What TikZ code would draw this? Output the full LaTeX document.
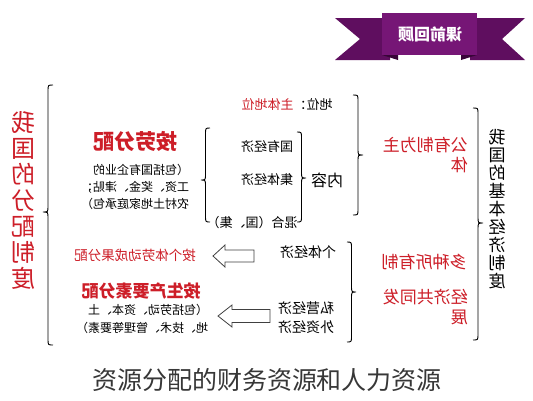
\documentclass[tikz,border=0pt]{standalone}
\usepackage{fontspec}
\newfontfamily\cjk{Noto Sans CJK SC}
\definecolor{redtxt}{RGB}{205,30,40}
\definecolor{ribbon}{RGB}{118,22,118}
\definecolor{ribbondark}{RGB}{95,14,95}
\definecolor{ribbonfold}{RGB}{55,5,55}
\definecolor{captxt}{RGB}{55,55,55}
\newcommand\fzz[2]{\cjk\fontsize{#1}{#2}\selectfont}
% #1 x of ends, #2 top y, #3 tip y, #4 bottom y, #5 signed amplitude (tip x = #1 + #5)
\newcommand\bracedraw[5]{%
  \draw[bracestyle] (#1,#2)
    .. controls +({0.5*(#5)},0) and +(0,-6) .. ++({0.5*(#5)},6)
    -- ++(0,{#3-#2-12})
    .. controls +(0,6) and +({-0.5*(#5)},0) .. ++({0.5*(#5)},6)
    .. controls +({-0.5*(#5)},0) and +(0,-6) .. ++({-0.5*(#5)},6)
    -- ++(0,{#4-#3-12})
    .. controls +(0,6) and +({0.5*(#5)},0) .. ++({-0.5*(#5)},6);}
\tikzset{
  mtext/.style={xscale=-1, inner sep=0pt, align=center},
  redt/.style={text=redtxt},
  bracestyle/.style={line width=0.9pt, black},
  blockarr/.style={draw=black!75, line width=0.8pt, fill=white, line join=miter}
}
\begin{document}
\begin{tikzpicture}[x=1pt,y=-1pt]
\path[fill=white] (0,0) rectangle (533,400);
\useasboundingbox (0,0) rectangle (533,400);

% banner
\fill[ribbondark] (335,18) -- (390,18) -- (390,60) -- (335,60) -- (360,39) -- cycle;
\fill[ribbondark] (525,18) -- (470,18) -- (470,60) -- (525,60) -- (502,39) -- cycle;
\fill[ribbonfold] (382,55) -- (398,55) -- (398,60) -- cycle;
\fill[ribbonfold] (477,55) -- (461,55) -- (461,60) -- cycle;
\fill[ribbon] (382,13) rectangle (477,55);
\node[mtext, text=white, font={\fzz{16}{16}\bfseries}] (title) at (430,34) {课前回顾};

% left vertical title
\node[mtext, redt, font={\fzz{24}{26}}] (lefttitle) at (23,200) {我\\国\\的\\分\\配\\制\\度};
\bracedraw{53}{85}{212}{345}{-10}

% left column
\node[mtext, redt, font={\fzz{21}{21}\bfseries}] (anlao) at (135,141) {按劳分配};
\node[mtext, align=left, font={\fzz{12}{17}}] (para1) at (135,187) {（包括国有企业的\\工资、奖金、津贴；\\农村土地家庭承包）};
\node[mtext, redt, font={\fzz{13.5}{13.5}}] (geti) at (135,255) {按个体劳动成果分配};
\node[mtext, redt, font={\fzz{17}{17}\bfseries}] (yaosu) at (141,291) {按生产要素分配};
\node[mtext, align=left, font={\fzz{12}{18}}] (para2) at (142,319) {（包括劳动、资本、土\\地、技术、管理等要素）};

% middle
\node[mtext, font={\fzz{13}{13}}] (diwei) at (287,104) {地位：\textcolor{redtxt}{主体地位}};
\node[mtext, font={\fzz{13}{13}}] (guoyou) at (267,147) {国有经济};
\node[mtext, font={\fzz{13}{13}}] (jiti) at (267,180) {集体经济};
\node[mtext, font={\fzz{13}{13}}] (hunhe) at (252,223) {混合（国、集）};
\node[mtext, font={\fzz{16}{16}}] (neirong) at (327,180) {内容};
\bracedraw{353}{95}{155}{215}{10}
\bracedraw{210}{128}{180}{222}{-9}
\bracedraw{297}{132}{178}{222}{9}

\node[mtext, font={\fzz{14}{14}}] (getijj) at (308,252) {个体经济};
\node[mtext, font={\fzz{14}{14}}] (siying) at (306,308) {私营经济};
\node[mtext, font={\fzz{14}{14}}] (waizi) at (306,327) {外资经济};
\bracedraw{347}{242}{292}{342}{9}

% hollow block arrows
\coordinate (a1tip) at (213,256);
\draw[blockarr] (a1tip) -- ++(12,-11) -- ++(0,5) -- ++(29,0) -- ++(0,12) -- ++(-29,0) -- ++(0,5) -- cycle;
\coordinate (a2tip) at (218,316);
\draw[blockarr] (a2tip) -- ++(14,-11) -- ++(0,4.5) -- ++(38,0) -- ++(0,13) -- ++(-38,0) -- ++(0,4.5) -- cycle;

% right column
\node[mtext, redt, align=left, anchor=west, font={\fzz{17}{20}}] (gongyou) at (468,155) {公有制为主\\体};
\node[mtext, redt, font={\fzz{17}{17}}] (duozhong) at (424,262) {多种所有制};
\node[mtext, redt, align=left, anchor=west, font={\fzz{17}{20}}] (gongtong) at (468,307) {经济共同发\\展};
\bracedraw{473}{108}{223}{340}{10}
\node[mtext, font={\fzz{17}{18}}] (righttitle) at (497,209) {我\\国\\的\\基\\本\\经\\济\\制\\度};

% caption
\node[inner sep=0pt, text=captxt, font={\fzz{25}{25}}] (caption) at (267,380) {资源分配的财务资源和人力资源};
\end{tikzpicture}
\end{document}
